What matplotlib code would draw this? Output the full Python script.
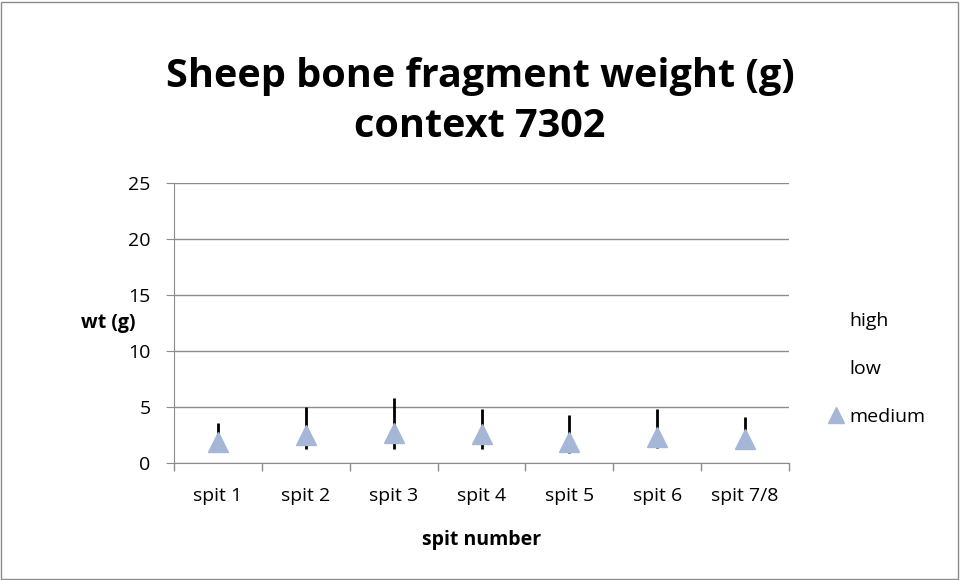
import matplotlib.pyplot as plt
from matplotlib.patches import Rectangle

spits = ["spit 1", "spit 2", "spit 3", "spit 4", "spit 5", "spit 6", "spit 7/8"]
high = [3.6, 5.0, 5.8, 4.8, 4.3, 4.8, 4.1]
low = [1.3, 1.25, 1.25, 1.25, 0.87, 1.3, 1.4]
medium = [1.9, 2.5, 2.7, 2.6, 1.9, 2.3, 2.1]

plt.rcParams['font.family'] = ['Open Sans', 'DejaVu Sans']

fig = plt.figure(figsize=(9.6, 5.8), dpi=100)
fig.patches.append(Rectangle((0.001, 0.002), 0.997, 0.995, transform=fig.transFigure,
                             fill=False, edgecolor="#8c8c8c", lw=1))
ax = fig.add_axes([174 / 960, 117 / 580, 615 / 960, 280 / 580])

x = list(range(len(spits)))
ax.vlines(x, low, high, color="black", lw=2, label="_nolegend_")
h_hi, = ax.plot([], [], ls="none", label="high")
h_lo, = ax.plot([], [], ls="none", label="low")
h_med, = ax.plot(x, medium, ls="none", marker="^", ms=14, color="#a5b6d6", label="medium")

ax.set_xlim(-0.5, len(spits) - 0.5)
ax.set_ylim(0, 25)
ax.set_yticks(range(0, 26, 5))
ax.set_xticks(x)
ax.set_xticklabels(spits)
ax.set_xticks([i - 0.5 for i in range(len(spits) + 1)], minor=True)
ax.tick_params(axis="x", which="major", length=0, pad=17.5, labelsize=14)
ax.tick_params(axis="x", which="minor", length=6, color="#8c8c8c", width=1)
ax.tick_params(axis="y", length=6, color="#8c8c8c", labelsize=14, pad=11)
ax.grid(axis="y", color="#8c8c8c", lw=1)
ax.set_axisbelow(True)
for s in ["top", "right"]:
    ax.spines[s].set_visible(False)
for s in ["left", "bottom"]:
    ax.spines[s].set_color("#8c8c8c")

ax.set_xlabel("spit number", fontsize=14, fontweight="bold", labelpad=18)
ax.set_ylabel("wt (g)", fontsize=14, fontweight="bold", rotation=0, labelpad=14, va="center")
fig.text(0.5, 0.825, "Sheep bone fragment weight (g)\ncontext 7302", ha="center", va="center",
         fontsize=28.5, fontweight="bold", linespacing=1.35)

leg = ax.legend(handles=[h_hi, h_lo, h_med], loc="center left", bbox_to_anchor=(1.035, 0.336),
                frameon=False, fontsize=14, handlelength=0.8, handletextpad=0.3, labelspacing=1.56,
                markerscale=0.8)

fig.savefig("out.png", dpi=100)
